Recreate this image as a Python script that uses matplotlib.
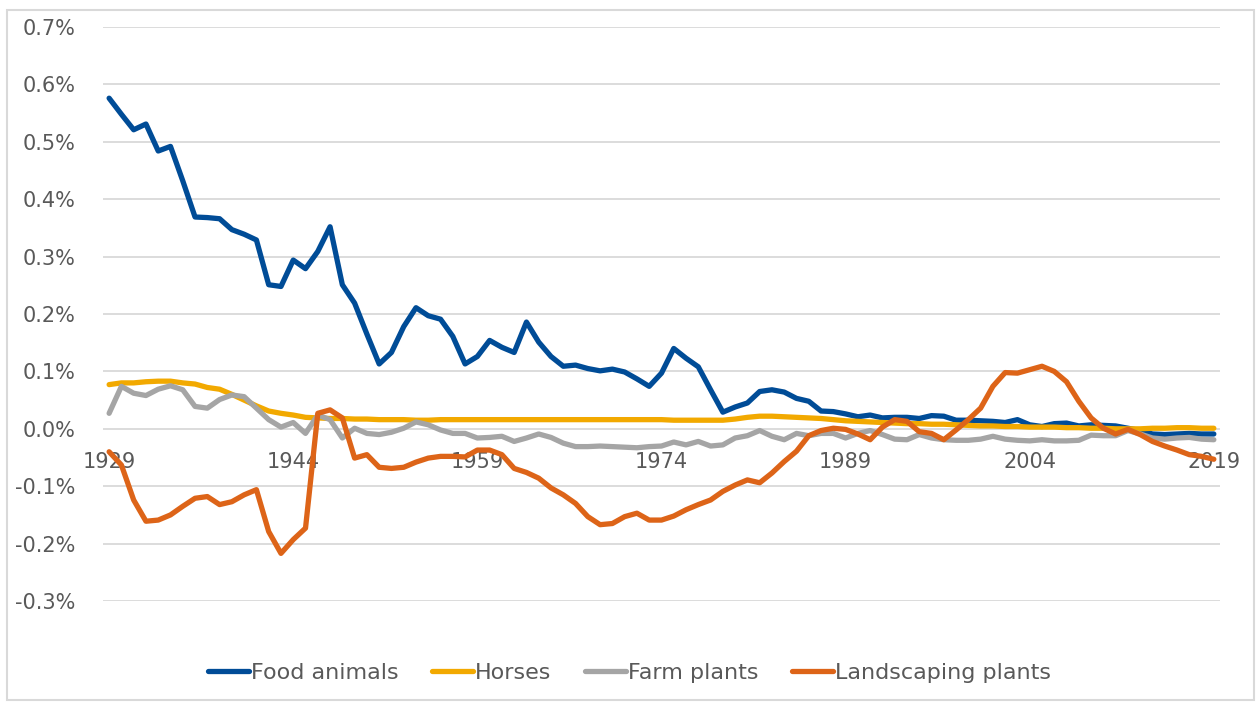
import matplotlib.pyplot as plt
from matplotlib.patches import Rectangle
from matplotlib.ticker import FuncFormatter

years = list(range(1929, 2020))

# values in percent
food_animals = [
    0.576, 0.548, 0.521, 0.531, 0.484, 0.492, 0.432, 0.369, 0.368, 0.366,
    0.347, 0.339, 0.329, 0.251, 0.248, 0.294, 0.279, 0.309, 0.352, 0.251,
    0.219, 0.165, 0.113, 0.133, 0.178, 0.211, 0.197, 0.191, 0.161, 0.113,
    0.126, 0.154, 0.142, 0.133, 0.186, 0.151, 0.126, 0.109, 0.111, 0.105,
    0.101, 0.104, 0.099, 0.087, 0.074, 0.097, 0.140, 0.123, 0.108, 0.068,
    0.029, 0.038, 0.045, 0.065, 0.068, 0.064, 0.053, 0.048, 0.031, 0.030,
    0.026, 0.021, 0.024, 0.019, 0.020, 0.020, 0.018, 0.023, 0.022, 0.015,
    0.015, 0.014, 0.013, 0.011, 0.016, 0.007, 0.004, 0.009, 0.010, 0.005,
    0.007, 0.006, 0.005, 0.001, -0.003, -0.009, -0.010, -0.009, -0.008, -0.009,
    -0.009,
]
horses = [
    0.077, 0.080, 0.080, 0.082, 0.083, 0.083, 0.080, 0.078, 0.072, 0.069,
    0.060, 0.050, 0.040, 0.031, 0.027, 0.024, 0.020, 0.019, 0.018, 0.018,
    0.017, 0.017, 0.016, 0.016, 0.016, 0.015, 0.015, 0.016, 0.016, 0.016,
    0.016, 0.016, 0.016, 0.016, 0.016, 0.016, 0.016, 0.016, 0.016, 0.016,
    0.016, 0.016, 0.016, 0.016, 0.016, 0.016, 0.015, 0.015, 0.015, 0.015,
    0.015, 0.017, 0.020, 0.022, 0.022, 0.021, 0.020, 0.019, 0.018, 0.016,
    0.014, 0.013, 0.012, 0.011, 0.010, 0.009, 0.009, 0.008, 0.008, 0.007,
    0.006, 0.005, 0.005, 0.004, 0.004, 0.003, 0.003, 0.003, 0.002, 0.002,
    0.001, 0.001, 0.000, 0.000, 0.000, 0.001, 0.001, 0.002, 0.002, 0.001,
    0.001,
]
farm_plants = [
    0.027, 0.074, 0.062, 0.058, 0.069, 0.075, 0.068, 0.039, 0.036, 0.051,
    0.059, 0.056, 0.036, 0.016, 0.003, 0.011, -0.008, 0.024, 0.016, -0.016,
    0.001, -0.008, -0.010, -0.006, 0.001, 0.012, 0.007, -0.002, -0.008, -0.008,
    -0.016, -0.015, -0.013, -0.022, -0.016, -0.009, -0.015, -0.025, -0.031, -0.031,
    -0.030, -0.031, -0.032, -0.033, -0.031, -0.030, -0.023, -0.028, -0.022, -0.030,
    -0.028, -0.016, -0.012, -0.003, -0.013, -0.019, -0.008, -0.012, -0.008, -0.008,
    -0.016, -0.008, -0.003, -0.010, -0.018, -0.019, -0.010, -0.016, -0.019, -0.020,
    -0.020, -0.018, -0.013, -0.018, -0.020, -0.021, -0.019, -0.021, -0.021, -0.020,
    -0.011, -0.012, -0.012, -0.003, -0.009, -0.016, -0.018, -0.016, -0.015, -0.018,
    -0.019,
]
landscaping_plants = [
    -0.040, -0.063, -0.124, -0.161, -0.159, -0.150, -0.135, -0.121, -0.118, -0.132,
    -0.127, -0.115, -0.106, -0.179, -0.217, -0.193, -0.173, 0.027, 0.033, 0.019,
    -0.051, -0.045, -0.067, -0.069, -0.067, -0.058, -0.051, -0.048, -0.048, -0.049,
    -0.037, -0.037, -0.045, -0.069, -0.076, -0.086, -0.103, -0.115, -0.130, -0.153,
    -0.167, -0.165, -0.153, -0.147, -0.159, -0.159, -0.152, -0.141, -0.132, -0.124,
    -0.109, -0.098, -0.089, -0.094, -0.077, -0.057, -0.039, -0.012, -0.003, 0.001,
    -0.001, -0.009, -0.019, 0.003, 0.016, 0.013, -0.005, -0.008, -0.019, -0.002,
    0.016, 0.036, 0.074, 0.098, 0.097, 0.103, 0.109, 0.100, 0.082, 0.048,
    0.019, 0.001, -0.009, -0.001, -0.010, -0.022, -0.030, -0.037, -0.045, -0.048,
    -0.053,
]

series_names = ["Food animals", "Horses", "Farm plants", "Landscaping plants"]
series_values = [food_animals, horses, farm_plants, landscaping_plants]
series_colors = ["#004C97", "#F2A900", "#A5A5A5", "#DD6418"]

x_ticks = [1929, 1944, 1959, 1974, 1989, 2004, 2019]
y_ticks = [-0.3, -0.2, -0.1, 0.0, 0.1, 0.2, 0.3, 0.4, 0.5, 0.6, 0.7]

text_col = "#595959"
grid_col = "#D9D9D9"

fig = plt.figure(figsize=(12.59, 7.09), dpi=100)
ax = fig.add_axes([0.0818, 0.1523, 0.8872, 0.8096])

# outer chart border
fig.patches.append(Rectangle((0.0056, 0.0127), 0.9905, 0.973, transform=fig.transFigure,
                             fill=False, edgecolor=grid_col, linewidth=1.5, zorder=0))

for name, vals, col in zip(series_names, series_values, series_colors):
    ax.plot(years, vals, color=col, linewidth=3.8, label=name, solid_capstyle="round",
            solid_joinstyle="round", zorder=3)

ax.set_xlim(1928.5, 2019.5)
ax.set_ylim(-0.3, 0.7)
ax.set_yticks(y_ticks)
ax.yaxis.set_major_formatter(FuncFormatter(lambda v, p: f"{v:.1f}%"))
ax.set_xticks(x_ticks)
ax.grid(axis="y", color=grid_col, linewidth=1.3)
ax.set_axisbelow(True)

for s in ["top", "right", "left"]:
    ax.spines[s].set_visible(False)
ax.spines["bottom"].set_position(("data", 0))
ax.spines["bottom"].set_visible(False)

ax.tick_params(axis="y", length=0, pad=20, labelsize=15, labelcolor=text_col)
ax.tick_params(axis="x", length=0, pad=17, labelsize=15, labelcolor=text_col)

fig.legend(loc="center", bbox_to_anchor=(0.5, 0.0508), ncol=4, frameon=False,
           fontsize=16, labelcolor=text_col, handlelength=1.85, handletextpad=0.1,
           columnspacing=1.5)

fig.savefig("out.png", dpi=100)
